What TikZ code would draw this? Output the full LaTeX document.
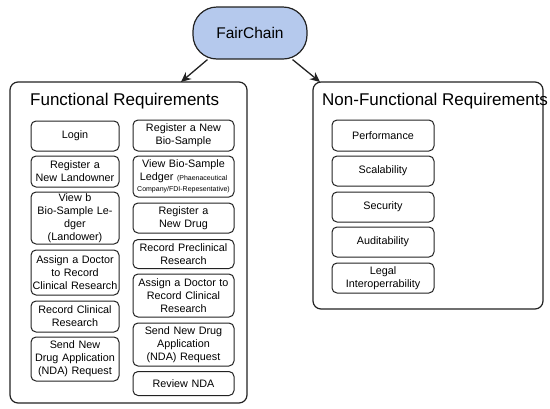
\documentclass[tikz,border=0pt]{standalone}
\usepackage{fontspec}
\setmainfont{Liberation Sans}
\usetikzlibrary{shapes,arrows,arrows.meta,positioning}
\definecolor{rootblue}{RGB}{181,201,237}
\definecolor{edge}{RGB}{34,34,34}

\begin{document}
\begin{tikzpicture}[x=1pt, y=-1pt, >={Stealth[length=10pt,width=9pt]},
    root/.style={draw=edge, line width=1.2pt, fill=rootblue, rounded corners=24pt,
        minimum width=114pt, minimum height=52pt, font=\fontsize{15.5}{18}\selectfont},
    group/.style={draw=edge, line width=1.2pt, rounded corners=8pt},
    title/.style={anchor=west, inner sep=0pt, font=\fontsize{17}{20}\selectfont},
    req/.style={draw=edge, line width=1pt, rounded corners=5pt, align=center,
        inner sep=1pt, font=\fontsize{10.8}{13}\selectfont},
    lreq/.style={req, text width=86pt},
    rreq/.style={req, text width=99pt},
    nreq/.style={req, text width=100pt}]
    \useasboundingbox (0,0) rectangle (550,408);

    % Root
    \node[root] (fairchain) at (250,33) {FairChain};

    % Groups
    \node[group, minimum width=237pt, minimum height=321pt] (fr) at (128.5,242.5) {};
    \node[group, minimum width=230pt, minimum height=227pt] (nfr) at (428,195.5) {};
    \node[title] (frtitle) at (30,101) {Functional Requirements};
    \node[title] (nfrtitle) at (322,101) {Non-Functional Requirements};

    % Functional, left column
    \node[lreq, minimum height=30pt] (login) at (75,136) {Login};
    \node[lreq, minimum height=31pt] (reglandowner) at (75,171.5) {Register a\\New Landowner};
    \node[lreq, minimum height=52pt] (viewb) at (75,218) {View b\\Bio-Sample Le-\\dger\\(Landower)};
    \node[lreq, minimum height=45pt] (assignone) at (75,272.5) {Assign a Doctor\\to Record\\Clinical Research};
    \node[lreq, minimum height=31pt] (recclinical) at (75,316.5) {Record Clinical\\Research};
    \node[lreq, minimum height=44pt] (sendone) at (75,359) {Send New\\Drug Application\\(NDA) Request};

    % Functional, right column
    \node[rreq, minimum height=31pt] (regbio) at (183.5,135.5) {Register a New\\Bio-Sample};
    \node[rreq, minimum height=41pt] (viewledger) at (183.5,176.5) {View Bio-Sample\\Ledger {\fontsize{7}{9}\selectfont (Phaenaceutical}\\[-2pt]{\fontsize{7}{9}\selectfont Company/FDI-Repesentative)}};
    \node[rreq, minimum height=30pt] (regdrug) at (183.5,218) {Register a\\New Drug};
    \node[rreq, minimum height=29pt] (preclinical) at (183.5,254) {Record Preclinical\\Research};
    \node[rreq, minimum height=43pt] (assigntwo) at (183.5,295.5) {Assign a Doctor to\\Record Clinical\\Research};
    \node[rreq, minimum height=43pt] (sendtwo) at (183.5,344.5) {Send New Drug\\Application\\(NDA) Request};
    \node[rreq, minimum height=24pt] (review) at (183.5,383.5) {Review NDA};

    % Non-functional
    \node[nreq, minimum height=31pt] (perf) at (383,135.5) {Performance};
    \node[nreq, minimum height=30pt] (scal) at (383,171) {Scalability};
    \node[nreq, minimum height=30pt] (sec) at (383,207) {Security};
    \node[nreq, minimum height=30pt] (audit) at (383,242) {Auditability};
    \node[nreq, minimum height=30pt] (legal) at (383,278) {Legal\\Interoperrability};

    % Links
    \coordinate (frin) at (181,82);
    \coordinate (nfrin) at (320,82);
    \draw[->, line width=1.3pt, edge] (fairchain.-148) -- (frin);
    \draw[->, line width=1.3pt, edge] (fairchain.-32) -- (nfrin);
\end{tikzpicture}
\end{document}
